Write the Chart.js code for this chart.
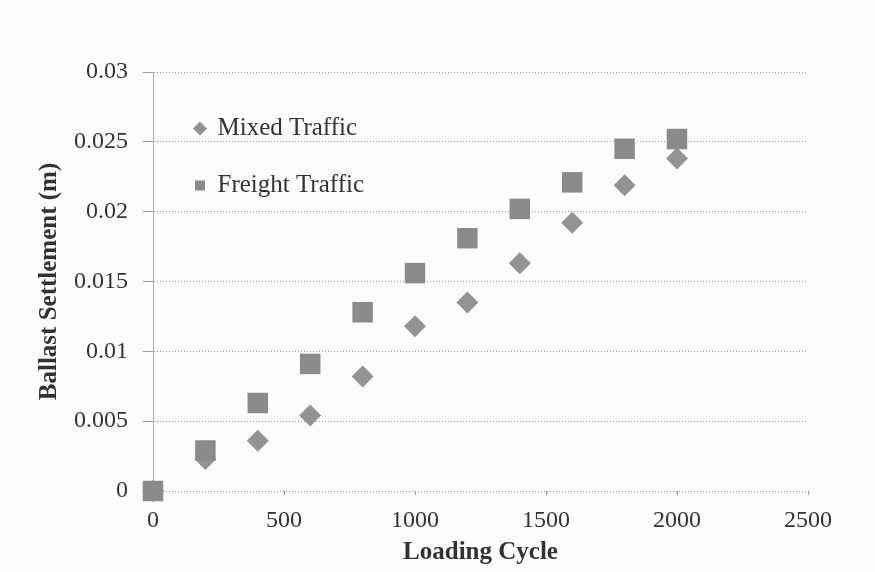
<!DOCTYPE html>
<html>
<head>
<meta charset="utf-8">
<script src="https://cdn.jsdelivr.net/npm/chart.js@4"></script>
<style>
  body { margin: 0; background: #fcfcfc; }
  #wrap { width: 875px; height: 572px; position: relative; }
</style>
</head>
<body>
<div id="wrap"><canvas id="myChart"></canvas></div>
<script>
// loading cycles and settlement (m)
const cycles = [0, 200, 400, 600, 800, 1000, 1200, 1400, 1600, 1800, 2000];
const mixedTraffic = [0, 0.0023, 0.0036, 0.0054, 0.0082, 0.0118, 0.0135, 0.0163, 0.0192, 0.0219, 0.0238];
const freightTraffic = [0, 0.0029, 0.0063, 0.0091, 0.0128, 0.0156, 0.0181, 0.0202, 0.0221, 0.0245, 0.0252];
const xTickLabels = ["0", "500", "1000", "1500", "2000", "2500"];
const yTickLabels = ["0", "0.005", "0.01", "0.015", "0.02", "0.025", "0.03"];

Chart.defaults.font.family = "'Liberation Serif', 'Times New Roman', serif";
Chart.defaults.color = "#333";

function toPoints(values) {
  return cycles.map((c, i) => ({ x: c, y: values[i] }));
}

// legend sits inside the plot area, a bit lower/right than chart.js puts it
const legendNudge = {
  id: "legendNudge",
  afterLayout(chart) {
    chart.legend.left = chart.chartArea.left + 10;
    chart.legend.top = chart.chartArea.top + 12;
  }
};

const data = {
  datasets: [
    {
      label: "Mixed Traffic",
      data: toPoints(mixedTraffic),
      pointStyle: "rectRot",
      pointRadius: 11,
      backgroundColor: "#939393",
      borderColor: "#939393",
      borderWidth: 0,
      order: 1,
      clip: false
    },
    {
      label: "Freight Traffic",
      data: toPoints(freightTraffic),
      pointStyle: "rect",
      pointRadius: 14.5,
      backgroundColor: "#8a8a8a",
      borderColor: "#8a8a8a",
      borderWidth: 0,
      order: 0,
      clip: false
    }
  ]
};

new Chart(document.getElementById("myChart"), {
  type: "scatter",
  data,
  plugins: [legendNudge],
  options: {
    responsive: true,
    maintainAspectRatio: false,
    animation: false,
    layout: { padding: { top: 72, right: 67, left: 0, bottom: 0 } },
    plugins: {
      tooltip: { enabled: false },
      legend: {
        position: "chartArea",
        align: "start",
        labels: {
          usePointStyle: true,
          boxWidth: 10,
          boxHeight: 10,
          padding: 32,
          color: "#333",
          font: { size: 25 },
          sort: (a, b) => a.datasetIndex - b.datasetIndex
        }
      }
    },
    scales: {
      x: {
        type: "linear",
        min: 0,
        max: 2500,
        afterFit(scale) { scale.height = 81; },
        ticks: {
          stepSize: 500,
          padding: 11,
          font: { size: 24 },
          color: "#333",
          maxRotation: 0,
          callback: (v, i) => xTickLabels[i]
        },
        grid: { drawOnChartArea: false, drawTicks: true, tickLength: 4, color: "#999" },
        border: { display: false },
        title: {
          display: true,
          text: "Loading Cycle",
          color: "#333",
          font: { size: 25, weight: "bold" },
          padding: { top: 0, bottom: 4 }
        }
      },
      y: {
        min: 0,
        max: 0.03,
        afterFit(scale) { scale.width = 153; },
        ticks: {
          stepSize: 0.005,
          padding: 15,
          font: { size: 24 },
          color: "#333",
          callback: (v, i) => yTickLabels[i]
        },
        // border.dash also dashes the grid lines in v4
        grid: { color: "#9a9a9a", tickLength: 10, lineWidth: 1 },
        border: { display: true, color: "#b0b0b0", dash: [1, 2] },
        title: {
          display: true,
          text: "Ballast Settlement (m)",
          color: "#333",
          font: { size: 25, weight: "bold" },
          padding: { top: 35, bottom: 0 }
        }
      }
    }
  }
});
</script>
</body>
</html>
